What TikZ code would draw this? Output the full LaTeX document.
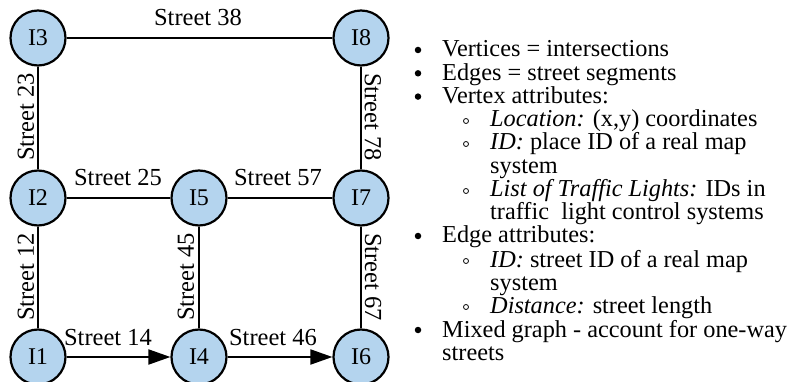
\documentclass[tikz,border=0pt]{standalone}
\usepackage{fontspec}
\setmainfont{Liberation Serif}
\usetikzlibrary{arrows.meta}
\definecolor{nodefill}{RGB}{180,212,238}
\begin{document}
\begin{tikzpicture}[x=1pt,y=-1pt,
  inter/.style={circle,draw=black,line width=2.2pt,fill=nodefill,minimum size=55pt,inner sep=0pt,font=\fontsize{24}{26}\selectfont},
  road/.style={line width=2pt},
  oneway/.style={line width=2pt,-{Triangle[length=22pt,width=15pt]}},
  lbl/.style={font=\fontsize{24.5}{26}\selectfont,inner sep=0pt},
  txt/.style={anchor=base west,inner sep=0pt,font=\fontsize{24.3}{26}\selectfont},
  bul/.style={circle,fill=black,inner sep=0pt,minimum size=6.5pt},
  subbul/.style={circle,draw=black,line width=0.8pt,inner sep=0pt,minimum size=5pt}]
\useasboundingbox (0,0) rectangle (803,382);

% intersections
\node[inter] (I3) at (38,38) {I3};
\node[inter] (I8) at (361,38) {I8};
\node[inter] (I2) at (38,198) {I2};
\node[inter] (I5) at (199,198) {I5};
\node[inter] (I7) at (361,198) {I7};
\node[inter] (I1) at (38,357) {I1};
\node[inter] (I4) at (199,357) {I4};
\node[inter] (I6) at (361,357) {I6};

% streets
\draw[road] (I3) -- (I8);
\draw[road] (I3) -- (I2);
\draw[road] (I8) -- (I7);
\draw[road] (I2) -- (I5);
\draw[road] (I5) -- (I7);
\draw[road] (I2) -- (I1);
\draw[road] (I5) -- (I4);
\draw[road] (I7) -- (I6);
\draw[oneway] (I1) -- (I4);
\draw[oneway] (I4) -- (I6);

% street labels
\node[lbl] (s38) at (198,17) {Street 38};
\node[lbl,rotate=90] (s23) at (26,117) {Street 23};
\node[lbl,rotate=-90] (s78) at (373,117) {Street 78};
\node[lbl] (s25) at (118,178) {Street 25};
\node[lbl] (s57) at (278,178) {Street 57};
\node[lbl,rotate=90] (s12) at (26,277) {Street 12};
\node[lbl,rotate=90] (s45) at (186,277) {Street 45};
\node[lbl,rotate=-90] (s67) at (373,277) {Street 67};
\node[lbl] (s14) at (108,338) {Street 14};
\node[lbl] (s46) at (273,338) {Street 46};

% attribute list
\node[bul] (b1) at (418,50) {};
\node[txt] (t1) at (442,57) {Vertices = intersections};
\node[bul] (b2) at (418,73.3) {};
\node[txt] (t2) at (442,80.3) {Edges = street segments};
\node[bul] (b3) at (418,96.6) {};
\node[txt] (t3) at (442,103.6) {Vertex attributes:};
\node[subbul] (c1) at (466,121) {};
\node[txt] (t4) at (490,127) {\textit{Location:} (x,y) coordinates};
\node[subbul] (c2) at (466,144) {};
\node[txt] (t5) at (490,150) {\textit{ID:} place ID of a real map};
\node[txt] (t6) at (490,173.5) {system};
\node[subbul] (c3) at (466,191) {};
\node[txt] (t7) at (490,197) {\textit{List of Traffic Lights:} IDs in};
\node[txt] (t8) at (490,220) {traffic\ \ light control systems};
\node[bul] (b4) at (418,236) {};
\node[txt] (t9) at (442,243) {Edge attributes:};
\node[subbul] (c4) at (466,261) {};
\node[txt] (t10) at (490,267) {\textit{ID:} street ID of a real map};
\node[txt] (t11) at (490,290) {system};
\node[subbul] (c5) at (466,307) {};
\node[txt] (t12) at (490,313) {\textit{Distance:} street length};
\node[bul] (b5) at (418,330) {};
\node[txt] (t13) at (442,337) {Mixed graph - account for one-way};
\node[txt] (t14) at (442,360) {streets};
\end{tikzpicture}
\end{document}
